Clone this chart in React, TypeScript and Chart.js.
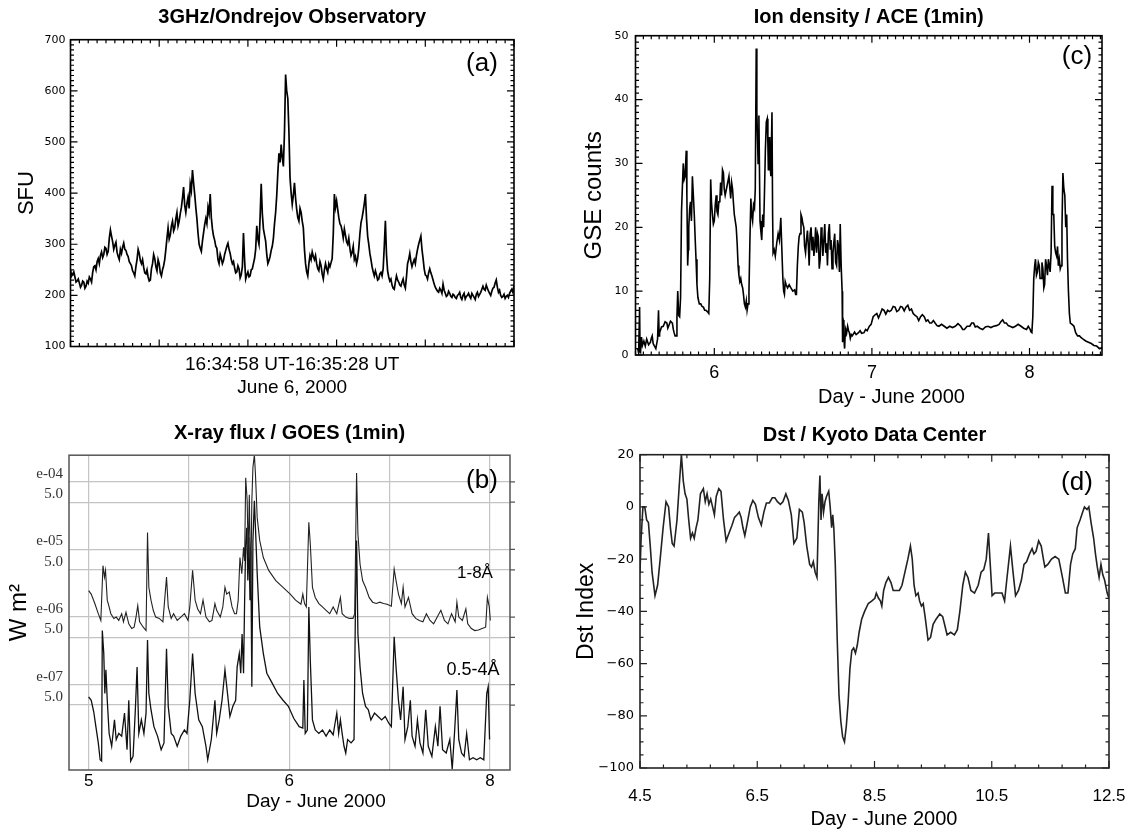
import React, { useEffect, useRef } from "react";
import { Chart, registerables } from "chart.js";

Chart.register(...registerables);
Chart.defaults.font.family = "'Liberation Sans', Arial, sans-serif";
Chart.defaults.color = "#000";

// ---------------- (a) 3 GHz / Ondrejov : seconds after 16:34:58 UT, sampled every 0.075 s
const radioStep = 0.075;
const radioSfu = [
  250, 238, 242, 246, 236, 226, 228, 232, 224, 216, 220, 228, 226, 214, 218, 228, 224, 236, 232, 226,
  245, 256, 258, 250, 266, 272, 262, 278, 285, 274, 280, 294, 292, 280, 286, 312, 328, 316, 305, 290,
  298, 304, 284, 276, 270, 290, 282, 294, 302, 290, 288, 280, 276, 266, 262, 258, 248, 244, 238, 256,
  270, 290, 282, 268, 262, 270, 255, 244, 242, 250, 236, 228, 230, 252, 262, 280, 272, 256, 248, 270,
  262, 244, 238, 250, 258, 270, 290, 312, 332, 310, 318, 336, 345, 326, 332, 350, 362, 336, 345, 360,
  372, 390, 412, 376, 362, 380, 392, 370, 418, 405, 445, 420, 398, 372, 350, 322, 300, 292, 286, 306,
  322, 338, 350, 340, 372, 360, 398, 352, 330, 316, 308, 296, 292, 270, 262, 280, 272, 262, 268, 280,
  288, 296, 302, 290, 282, 270, 262, 266, 254, 244, 246, 258, 252, 234, 240, 256, 322, 270, 232, 240,
  246, 236, 238, 250, 252, 262, 272, 290, 336, 310, 300, 352, 418, 360, 330, 318, 306, 280, 262, 268,
  276, 288, 296, 312, 340, 362, 395, 440, 478, 460, 495, 470, 452, 520, 632, 600, 585, 520, 430, 400,
  378, 396, 420, 390, 368, 352, 345, 370, 362, 345, 332, 290, 262, 246, 238, 262, 278, 270, 285, 276,
  270, 278, 262, 252, 248, 266, 258, 242, 232, 250, 262, 252, 245, 262, 256, 264, 272, 320, 398, 372,
  385, 368, 352, 340, 336, 326, 312, 330, 318, 305, 300, 312, 292, 278, 284, 296, 270, 276, 262, 272,
  292, 320, 342, 352, 365, 380, 398, 350, 316, 300, 282, 270, 256, 246, 238, 248, 240, 230, 232, 242,
  245, 238, 252, 296, 346, 280, 248, 236, 228, 232, 220, 214, 212, 226, 238, 230, 226, 220, 218, 226,
  232, 220, 214, 236, 262, 270, 282, 266, 256, 264, 270, 262, 278, 290, 300, 308, 316, 290, 272, 252,
  240, 238, 232, 244, 252, 244, 238, 230, 222, 216, 212, 208, 206, 214, 210, 204, 222, 210, 204, 198,
  200, 208, 204, 198, 196, 202, 200, 196, 194, 200, 202, 206, 196, 192, 200, 204, 193, 198, 200, 204,
  198, 194, 204, 200, 196, 192, 202, 206, 198, 202, 206, 212, 218, 212, 210, 220, 214, 208, 204, 200,
  208, 214, 216, 224, 230, 216, 206, 210, 200, 196, 198, 202, 194, 198, 200, 196, 204, 208, 212, 206,
  220,
];
const radioXTicks = [0, 6, 12, 18, 24, 30];
const radioYTicks = [100, 200, 300, 400, 500, 600, 700];
const radioYLabels = ["100", "200", "300", "400", "500", "600", "700"];

// ---------------- (c) Ion density / ACE
const aceDays = [
  5.514, 5.52, 5.526, 5.529, 5.532, 5.538, 5.544, 5.553, 5.562, 5.571, 5.583, 5.595, 5.6, 5.606, 5.612, 5.618,
  5.629, 5.64, 5.646, 5.65, 5.653, 5.665, 5.676, 5.688, 5.699, 5.705, 5.71, 5.722, 5.734, 5.74, 5.745, 5.751,
  5.757, 5.763, 5.768, 5.774, 5.78, 5.786, 5.792, 5.797, 5.803, 5.809, 5.815, 5.822, 5.826, 5.831, 5.835, 5.838,
  5.844, 5.849, 5.855, 5.861, 5.867, 5.873, 5.879, 5.884, 5.89, 5.896, 5.905, 5.914, 5.922, 5.931, 5.939, 5.947,
  5.956, 5.965, 5.971, 5.977, 5.982, 5.988, 5.994, 6.0, 6.006, 6.012, 6.017, 6.023, 6.029, 6.035, 6.04, 6.046,
  6.052, 6.058, 6.063, 6.069, 6.081, 6.093, 6.099, 6.104, 6.11, 6.116, 6.121, 6.127, 6.133, 6.139, 6.145, 6.151,
  6.156, 6.162, 6.168, 6.174, 6.18, 6.185, 6.191, 6.197, 6.203, 6.208, 6.214, 6.22, 6.226, 6.232, 6.237, 6.243,
  6.249, 6.255, 6.26, 6.266, 6.27, 6.273, 6.278, 6.283, 6.287, 6.29, 6.295, 6.301, 6.307, 6.313, 6.318, 6.324,
  6.33, 6.336, 6.34, 6.343, 6.347, 6.352, 6.356, 6.359, 6.366, 6.37, 6.373, 6.38, 6.387, 6.396, 6.405, 6.413,
  6.422, 6.428, 6.435, 6.44, 6.445, 6.45, 6.456, 6.465, 6.475, 6.486, 6.498, 6.51, 6.516, 6.521, 6.527, 6.533,
  6.538, 6.544, 6.55, 6.556, 6.562, 6.568, 6.573, 6.579, 6.585, 6.591, 6.597, 6.602, 6.608, 6.614, 6.62, 6.626,
  6.632, 6.637, 6.643, 6.649, 6.655, 6.66, 6.666, 6.672, 6.678, 6.683, 6.689, 6.695, 6.701, 6.707, 6.713, 6.718,
  6.724, 6.73, 6.736, 6.741, 6.747, 6.753, 6.758, 6.764, 6.77, 6.776, 6.782, 6.788, 6.794, 6.799, 6.805, 6.811,
  6.813, 6.815, 6.818, 6.822, 6.825, 6.827, 6.83, 6.834, 6.84, 6.846, 6.852, 6.857, 6.863, 6.869, 6.875, 6.88,
  6.89, 6.9, 6.915, 6.925, 6.935, 6.95, 6.96, 6.97, 6.984, 6.995, 7.008, 7.02, 7.031, 7.042, 7.054, 7.065,
  7.077, 7.088, 7.1, 7.112, 7.123, 7.135, 7.147, 7.158, 7.17, 7.182, 7.193, 7.205, 7.216, 7.228, 7.239, 7.251,
  7.262, 7.274, 7.286, 7.297, 7.309, 7.32, 7.332, 7.344, 7.355, 7.367, 7.378, 7.39, 7.401, 7.413, 7.425, 7.442,
  7.459, 7.476, 7.494, 7.511, 7.529, 7.546, 7.564, 7.576, 7.587, 7.604, 7.621, 7.633, 7.645, 7.656, 7.668, 7.685,
  7.703, 7.72, 7.737, 7.755, 7.772, 7.79, 7.807, 7.818, 7.83, 7.841, 7.853, 7.865, 7.876, 7.894, 7.911, 7.928,
  7.946, 7.963, 7.981, 7.992, 8.004, 8.01, 8.015, 8.021, 8.027, 8.033, 8.038, 8.044, 8.05, 8.056, 8.062, 8.067,
  8.073, 8.079, 8.085, 8.091, 8.096, 8.102, 8.108, 8.114, 8.12, 8.125, 8.131, 8.137, 8.143, 8.148, 8.154, 8.16,
  8.166, 8.172, 8.178, 8.183, 8.189, 8.195, 8.201, 8.206, 8.212, 8.218, 8.224, 8.23, 8.236, 8.241, 8.247, 8.253,
  8.259, 8.27, 8.282, 8.293, 8.305, 8.317, 8.328, 8.34, 8.357, 8.374, 8.392, 8.409, 8.426, 8.444, 8.462,
];
const aceCounts = [
  1.0, 0.3, 7.5, 0.5, 0.4, 2.8, 1.5, 2.2, 1.4, 2.5, 1.6, 2.0, 2.6, 3.0, 1.8, 1.5,
  1.0, 2.5, 7.0, 3.0, 3.5, 4.4, 4.5, 5.2, 5.0, 4.2, 4.5, 5.3, 5.0, 4.0, 3.5, 3.0,
  3.0, 6.0, 10.0, 6.2, 6.0, 9.0, 22.5, 26.0, 30.0, 27.5, 28.0, 32.0, 25.0, 14.0, 16.5, 20.0,
  23.0, 24.0, 21.0, 28.0, 25.0, 22.0, 18.0, 15.0, 11.0, 9.0, 8.0, 8.0, 7.6, 7.5, 7.0, 7.0,
  6.8, 6.5, 12.0, 27.5, 24.0, 22.0, 20.5, 21.0, 23.5, 25.0, 22.5, 22.0, 24.0, 24.0, 27.0, 25.0,
  29.0, 28.5, 26.0, 25.0, 26.5, 28.0, 26.0, 24.5, 27.0, 26.0, 24.0, 22.0, 21.0, 20.0, 17.5, 14.0,
  12.5, 11.5, 12.0, 11.0, 10.5, 9.5, 8.0, 7.5, 8.5, 7.0, 8.0, 10.0, 18.0, 24.5, 22.0, 21.0,
  23.5, 23.0, 26.0, 48.0, 38.0, 35.0, 30.0, 37.5, 28.0, 21.0, 19.5, 18.0, 22.0, 20.0, 25.0, 32.0,
  36.5, 37.0, 33.0, 29.0, 34.0, 34.0, 29.0, 28.0, 38.0, 22.0, 16.0, 16.5, 15.5, 17.5, 19.0, 18.0,
  21.5, 17.0, 12.0, 10.0, 9.5, 11.5, 11.0, 10.5, 11.0, 10.5, 10.0, 10.2, 9.5, 9.5, 14.0, 17.0,
  18.5, 19.0, 22.0, 21.5, 20.5, 20.0, 17.0, 16.0, 18.0, 19.5, 17.0, 14.0, 19.0, 20.0, 16.5, 18.5,
  15.5, 17.0, 20.0, 16.0, 19.0, 18.5, 13.5, 15.0, 20.0, 19.0, 15.5, 18.0, 20.5, 16.0, 17.5, 14.0,
  19.0, 20.5, 16.5, 18.0, 13.5, 16.0, 17.5, 19.0, 14.5, 14.0, 18.0, 17.0, 13.0, 20.5, 14.0, 10.0,
  4.0, 2.0, 5.5, 5.0, 1.5, 1.0, 3.0, 4.0, 3.5, 4.5, 3.8, 3.5, 2.6, 3.2, 3.0, 3.0,
  3.6, 3.2, 3.5, 3.8, 3.4, 3.5, 4.0, 3.8, 4.5, 4.8, 6.0, 6.3, 6.5, 5.8, 6.5, 7.2,
  7.0, 6.4, 7.0, 6.8, 7.0, 7.6, 7.5, 6.8, 7.0, 7.6, 7.5, 6.9, 7.5, 7.8, 7.0, 7.2,
  6.5, 6.2, 6.0, 5.4, 6.0, 6.3, 6.0, 5.3, 5.5, 5.0, 5.0, 5.4, 5.0, 4.6, 4.5, 4.8,
  4.5, 4.2, 4.5, 4.3, 4.5, 4.9, 4.5, 4.0, 4.0, 4.5, 4.5, 5.0, 5.0, 4.4, 4.5, 4.2,
  4.0, 4.4, 4.5, 4.3, 4.5, 4.6, 4.8, 5.2, 5.5, 5.0, 5.0, 4.6, 4.5, 4.3, 4.5, 4.8,
  4.5, 4.2, 4.0, 4.5, 4.0, 3.6, 3.5, 6.0, 12.0, 14.0, 15.0, 12.5, 13.0, 14.5, 14.0, 12.0,
  12.0, 14.5, 13.5, 10.5, 11.0, 15.0, 14.0, 12.5, 15.0, 14.0, 13.0, 16.0, 26.5, 22.0, 22.0, 17.0,
  16.0, 15.5, 17.0, 14.0, 15.0, 13.5, 14.0, 20.0, 28.5, 26.0, 25.0, 20.0, 22.0, 15.0, 10.0, 6.5,
  5.0, 4.8, 4.5, 3.5, 3.0, 3.0, 2.7, 2.5, 2.2, 2.0, 1.8, 1.5, 1.4, 1.0, 1.2,
];
const aceXTicks = [6, 7, 8];
const aceXLabels = ["6", "7", "8"];
const aceYTicks = [0, 10, 20, 30, 40, 50];
const aceYLabels = ["0", "10", "20", "30", "40", "50"];

// ---------------- (b) X-ray flux / GOES : log10(W m^-2)
const goesLongDays = [
  5.0, 5.019, 5.046, 5.072, 5.091, 5.107, 5.118, 5.126, 5.139, 5.153, 5.166, 5.188, 5.206, 5.225, 5.247, 5.26,
  5.279, 5.3, 5.322, 5.34, 5.354, 5.367, 5.381, 5.408, 5.429, 5.44, 5.45, 5.466, 5.483, 5.501, 5.528, 5.555,
  5.582, 5.595, 5.617, 5.635, 5.662, 5.689, 5.716, 5.743, 5.756, 5.777, 5.796, 5.815, 5.836, 5.855, 5.877, 5.903,
  5.922, 5.944, 5.957, 5.984, 6.003, 6.019, 6.032, 6.051, 6.072, 6.091, 6.105, 6.118, 6.131, 6.145, 6.158, 6.166,
  6.174, 6.185, 6.193, 6.201, 6.212, 6.22, 6.228, 6.239, 6.247, 6.26, 6.279, 6.306, 6.346, 6.399, 6.453, 6.507,
  6.547, 6.587, 6.601, 6.614, 6.627, 6.646, 6.657, 6.673, 6.694, 6.721, 6.748, 6.775, 6.802, 6.828, 6.855, 6.882,
  6.895, 6.922, 6.949, 6.976, 6.989, 7.003, 7.013, 7.029, 7.048, 7.07, 7.097, 7.123, 7.15, 7.177, 7.204, 7.231,
  7.263, 7.284, 7.298, 7.316, 7.338, 7.351, 7.365, 7.391, 7.418, 7.445, 7.472, 7.499, 7.525, 7.552, 7.579, 7.606,
  7.633, 7.66, 7.686, 7.713, 7.74, 7.753, 7.767, 7.794, 7.82, 7.834, 7.861, 7.887, 7.914, 7.941, 7.968, 7.981,
  7.995, 8.003,
];
const goesLongLog10 = [
  -5.61, -5.66, -5.8, -5.95, -6.05, -5.24, -5.41, -5.31, -5.75, -5.85, -5.95, -6.02, -6.0, -6.05, -5.95, -6.07,
  -5.93, -6.1, -6.17, -6.15, -6.0, -5.83, -6.07, -6.15, -6.2, -4.75, -5.56, -5.75, -5.9, -6.0, -6.02, -6.07,
  -5.41, -5.85, -6.02, -5.95, -6.05, -6.0, -5.95, -6.05, -5.85, -5.31, -5.75, -5.88, -5.95, -5.75, -6.0, -6.07,
  -6.05, -5.8, -5.9, -6.0, -5.85, -5.56, -5.66, -5.63, -5.85, -5.95, -5.95, -5.75, -5.12, -5.36, -4.97, -5.17,
  -3.94, -4.28, -5.12, -4.19, -5.56, -4.28, -3.79, -3.6, -3.89, -4.53, -4.87, -5.12, -5.31, -5.46, -5.56, -5.66,
  -5.75, -5.81, -5.66, -5.8, -5.85, -4.6, -4.92, -5.56, -5.71, -5.8, -5.85, -5.9, -5.95, -5.85, -5.95, -5.71,
  -5.95, -6.0, -6.02, -6.02, -5.95, -3.87, -4.77, -5.22, -5.46, -5.56, -5.71, -5.78, -5.8, -5.78, -5.8, -5.81,
  -5.84, -5.29, -5.46, -5.66, -5.8, -5.56, -5.85, -5.71, -5.95, -6.02, -6.05, -6.07, -5.95, -6.05, -6.1, -6.0,
  -5.9, -6.05, -6.1, -5.95, -6.07, -5.78, -6.0, -6.05, -5.88, -6.1, -6.17, -6.2, -6.19, -6.17, -6.15, -5.71,
  -5.85, -6.05,
];
const goesShortDays = [
  5.0, 5.019, 5.038, 5.054, 5.072, 5.086, 5.097, 5.102, 5.113, 5.121, 5.129, 5.139, 5.153, 5.172, 5.193, 5.206,
  5.225, 5.247, 5.268, 5.287, 5.3, 5.314, 5.332, 5.349, 5.362, 5.375, 5.394, 5.413, 5.429, 5.44, 5.45, 5.466,
  5.488, 5.515, 5.542, 5.563, 5.582, 5.595, 5.617, 5.635, 5.662, 5.689, 5.716, 5.735, 5.756, 5.777, 5.796, 5.823,
  5.85, 5.877, 5.89, 5.917, 5.944, 5.957, 5.976, 5.997, 6.019, 6.038, 6.056, 6.078, 6.099, 6.11, 6.126, 6.137,
  6.147, 6.158, 6.166, 6.174, 6.182, 6.19, 6.198, 6.206, 6.212, 6.22, 6.228, 6.239, 6.247, 6.26, 6.279, 6.306,
  6.332, 6.373, 6.413, 6.453, 6.493, 6.534, 6.574, 6.601, 6.609, 6.619, 6.635, 6.646, 6.657, 6.673, 6.694, 6.721,
  6.748, 6.775, 6.802, 6.828, 6.842, 6.855, 6.869, 6.882, 6.895, 6.909, 6.922, 6.936, 6.962, 6.984, 6.995, 7.003,
  7.013, 7.029, 7.048, 7.07, 7.091, 7.11, 7.137, 7.164, 7.19, 7.217, 7.244, 7.263, 7.284, 7.298, 7.316, 7.332,
  7.351, 7.365, 7.386, 7.405, 7.418, 7.44, 7.458, 7.477, 7.499, 7.52, 7.539, 7.566, 7.592, 7.611, 7.627, 7.646,
  7.673, 7.7, 7.718, 7.735, 7.753, 7.767, 7.788, 7.807, 7.826, 7.847, 7.874, 7.901, 7.928, 7.954, 7.976, 7.987,
  7.997,
];
const goesShortLog10 = [
  -7.18, -7.23, -7.4, -7.62, -7.86, -8.11, -8.13, -6.2, -6.54, -7.13, -6.78, -7.23, -7.72, -7.91, -7.52, -7.81,
  -7.72, -7.76, -7.42, -7.96, -7.23, -8.13, -8.06, -7.37, -6.74, -7.72, -7.52, -7.72, -7.42, -6.34, -7.13, -7.37,
  -7.62, -7.76, -7.96, -7.86, -6.47, -7.32, -7.72, -7.76, -7.91, -7.76, -7.67, -7.72, -7.23, -6.54, -7.13, -7.52,
  -7.62, -7.91, -8.11, -7.81, -7.23, -7.72, -7.52, -7.23, -6.78, -7.13, -7.47, -7.32, -7.23, -6.74, -6.54, -6.83,
  -6.25, -6.83, -5.75, -4.92, -4.68, -5.46, -4.82, -5.75, -5.02, -7.03, -4.87, -4.28, -4.68, -5.36, -6.15, -6.54,
  -6.83, -6.98, -7.13, -7.23, -7.32, -7.5, -7.62, -7.64, -6.93, -7.72, -7.67, -5.85, -6.64, -7.52, -7.67, -7.72,
  -7.67, -7.76, -7.67, -7.74, -7.57, -7.42, -7.72, -7.52, -7.72, -7.91, -8.01, -7.81, -7.86, -7.81, -5.75, -4.87,
  -6.25, -6.74, -7.13, -7.32, -7.37, -7.52, -7.42, -7.47, -7.52, -7.47, -7.57, -7.62, -6.29, -6.74, -7.23, -7.52,
  -7.03, -7.81, -7.62, -7.23, -7.76, -7.91, -7.52, -7.86, -8.01, -7.37, -7.91, -8.06, -7.62, -7.91, -7.32, -7.96,
  -8.01, -7.81, -8.25, -7.72, -7.08, -7.81, -8.01, -8.06, -7.72, -8.11, -8.08, -8.11, -8.08, -8.11, -7.13, -7.03,
  -7.81,
];
const goesXTicks = [5, 5.75, 6.5, 7.25, 8];
const goesXLabels = ["5", "", "6", "", "8"];
const goesYTicks = [1e-4, 5e-5, 1e-5, 5e-6, 1e-6, 5e-7, 1e-7, 5e-8];
const goesYLabels = ["e-04", "5.0", "e-05", "5.0", "e-06", "5.0", "e-07", "5.0"];

// ---------------- (d) Dst / Kyoto
const dstDays = [
  4.5, 4.519, 4.55, 4.581, 4.613, 4.644, 4.675, 4.706, 4.756, 4.8, 4.844, 4.894, 4.944, 4.988, 5.019, 5.05,
  5.081, 5.131, 5.175, 5.206, 5.238, 5.269, 5.3, 5.331, 5.363, 5.394, 5.425, 5.456, 5.488, 5.531, 5.581, 5.613,
  5.644, 5.675, 5.706, 5.738, 5.769, 5.8, 5.844, 5.881, 5.925, 5.969, 6.019, 6.069, 6.113, 6.156, 6.194, 6.225,
  6.256, 6.288, 6.331, 6.381, 6.425, 6.469, 6.519, 6.569, 6.613, 6.656, 6.706, 6.756, 6.8, 6.844, 6.894, 6.938,
  6.988, 7.031, 7.081, 7.125, 7.175, 7.219, 7.269, 7.3, 7.344, 7.394, 7.425, 7.456, 7.488, 7.519, 7.55, 7.569,
  7.588, 7.606, 7.631, 7.656, 7.681, 7.719, 7.744, 7.769, 7.788, 7.806, 7.831, 7.863, 7.894, 7.925, 7.956, 7.988,
  8.019, 8.05, 8.081, 8.113, 8.144, 8.175, 8.206, 8.238, 8.281, 8.331, 8.394, 8.456, 8.506, 8.531, 8.569, 8.6,
  8.625, 8.656, 8.694, 8.738, 8.781, 8.819, 8.863, 8.925, 8.969, 9.019, 9.069, 9.113, 9.144, 9.175, 9.206, 9.244,
  9.269, 9.3, 9.331, 9.363, 9.413, 9.456, 9.5, 9.55, 9.613, 9.663, 9.706, 9.738, 9.8, 9.863, 9.913, 9.956,
  10.006, 10.05, 10.094, 10.144, 10.206, 10.269, 10.319, 10.363, 10.406, 10.444, 10.469, 10.506, 10.55, 10.613, 10.675, 10.719,
  10.756, 10.819, 10.863, 10.906, 10.956, 11.006, 11.05, 11.094, 11.144, 11.188, 11.219, 11.256, 11.3, 11.344, 11.381, 11.406,
  11.456, 11.519, 11.581, 11.644, 11.706, 11.756, 11.8, 11.844, 11.881, 11.925, 11.956, 12.006, 12.05, 12.081, 12.125, 12.156,
  12.194, 12.238, 12.269, 12.3, 12.331, 12.363, 12.394, 12.425, 12.469, 12.5,
];
const dstValues = [
  -25, -12, 0, 0, -5, -6, -15, -25, -34, -30, -20, -8, 2, 0, -8, -14,
  -15, -5, 10, 20, 10, 5, 3, -5, -12, -10, -12, -8, -5, 5, 7, 2,
  5, 1, 3, 0, -3, 4, 7, 6, -5, -13, -10, -7, -4, -3, -2, -4,
  -8, -11, -6, 0, 2.5, 1, -4, -7, -2, 1.5, 1.5, 3.5, 3.5, 2, 1, 2,
  5, 2.5, -3, -14, -12, -1, -2, -6, -15, -22, -23, -21, -25, -27, 2, 12,
  -5, 5, -2, 2, 4, 6, 0, -8, -3, -8, -22, -50, -72, -82, -88, -90,
  -84, -75, -62, -55, -54, -56, -53, -48, -43, -40, -37, -36, -35, -33, -35, -36,
  -38, -32, -29, -27, -29, -32, -32, -32, -30, -25, -20, -15, -20, -30, -34, -33,
  -36, -38, -37, -42, -51, -50, -45, -43, -41, -42, -46, -49, -48, -49, -47, -40,
  -30, -25, -27, -32, -33, -30, -25, -24, -20, -10, -20, -34, -33, -33, -33, -36,
  -28, -15, -25, -34, -32, -28, -22, -21, -18, -16, -18, -17, -13, -15, -20, -23,
  -22, -20, -19, -20, -27, -33, -33, -22, -18, -16, -8, -5, -2, 0, -1, 0,
  -6, -12, -18, -23, -27, -22, -26, -28, -33, -35,
];
const dstXTicks = [4.5, 6.5, 8.5, 10.5, 12.5];
const dstXLabels = ["4.5", "6.5", "8.5", "10.5", "12.5"];
const dstYTicks = [-100, -80, -60, -40, -20, 0, 20];
const dstYLabels = ["\u2212100", "\u221280", "\u221260", "\u221240", "\u221220", "0", "20"];

// ---------------- helpers
const SANS = "'Liberation Sans', Arial, sans-serif";
const DEJAVU = "'DejaVu Sans', sans-serif";
const SERIF = "'Liberation Serif', 'Times New Roman', serif";
const CW = 567;
const CH = 415;

function seq(a: number, b: number, step: number): number[] {
  const out: number[] = [];
  const n = Math.round((b - a) / step);
  for (let i = 0; i <= n; i++) out.push(Math.round((a + i * step) * 1e6) / 1e6);
  return out;
}

type FrameCfg = {
  color: string;
  lineWidth: number;
  tickWidth: number;
  xMajor: number[];
  xMinor: number[];
  yMajor: number[];
  yMinor: number[];
  majorLen: number;
  minorLen: number;
  rightOut?: number[];
  outLen?: number;
};

function framePlugin(cfg: FrameCfg) {
  return {
    id: "frame",
    afterDatasetsDraw(chart: any) {
      const { ctx, chartArea } = chart;
      const { left, right, top, bottom } = chartArea;
      const xs = chart.scales.x;
      const ys = chart.scales.y;
      ctx.save();
      ctx.strokeStyle = cfg.color;
      ctx.lineWidth = cfg.tickWidth;
      ctx.beginPath();
      const xt = (v: number, len: number) => {
        const p = xs.getPixelForValue(v);
        if (p < left - 0.5 || p > right + 0.5) return;
        ctx.moveTo(p, bottom);
        ctx.lineTo(p, bottom - len);
        ctx.moveTo(p, top);
        ctx.lineTo(p, top + len);
      };
      const yt = (v: number, len: number) => {
        const p = ys.getPixelForValue(v);
        if (p < top - 0.5 || p > bottom + 0.5) return;
        ctx.moveTo(left, p);
        ctx.lineTo(left + len, p);
        ctx.moveTo(right, p);
        ctx.lineTo(right - len, p);
      };
      cfg.xMinor.forEach((v) => xt(v, cfg.minorLen));
      cfg.xMajor.forEach((v) => xt(v, cfg.majorLen));
      cfg.yMinor.forEach((v) => yt(v, cfg.minorLen));
      cfg.yMajor.forEach((v) => yt(v, cfg.majorLen));
      (cfg.rightOut || []).forEach((v) => {
        const p = ys.getPixelForValue(v);
        ctx.moveTo(right, p);
        ctx.lineTo(right + (cfg.outLen || 5), p);
      });
      ctx.stroke();
      ctx.lineWidth = cfg.lineWidth;
      ctx.strokeRect(left, top, right - left, bottom - top);
      ctx.restore();
    },
  };
}

type TextItem = { text: string; x: number; y: number; font: string; color?: string };
function textPlugin(items: TextItem[]) {
  return {
    id: "texts",
    afterDraw(chart: any) {
      const ctx = chart.ctx;
      ctx.save();
      ctx.textAlign = "center";
      ctx.textBaseline = "middle";
      items.forEach((it) => {
        ctx.font = it.font;
        ctx.fillStyle = it.color || "#000";
        ctx.fillText(it.text, it.x, it.y);
      });
      ctx.restore();
    },
  };
}

const setTicks = (vals: number[]) => (scale: any) => {
  scale.ticks = vals.map((v) => ({ value: v }));
};
const labelsFrom = (labels: string[]) => (_v: any, i: number) => labels[i];

function baseOptions(title: string, titlePad: { top: number; bottom: number }, padRight: number) {
  return {
    animation: false as const,
    responsive: false,
    devicePixelRatio: 1,
    events: [] as any[],
    layout: { padding: { left: 0, right: padRight, top: 0, bottom: 0 } },
    plugins: {
      legend: { display: false },
      tooltip: { enabled: false },
      title: {
        display: true,
        text: title,
        fullSize: false,
        color: "#000",
        font: { family: SANS, size: 20, weight: "bold" as const, lineHeight: 1.2 },
        padding: titlePad,
      },
    },
  };
}

// ---------------- panel configs
function buildA() {
  return {
    type: "line" as const,
    data: {
      datasets: [
        {
          data: radioSfu.map((v, i) => ({ x: i * radioStep, y: v })),
          borderColor: "#000",
          borderWidth: 1.7,
          pointRadius: 0,
          tension: 0,
        },
      ],
    },
    options: {
      ...baseOptions("3GHz/Ondrejov Observatory", { top: 5.6, bottom: 10.1 }, 53),
      scales: {
        x: {
          type: "linear" as const,
          min: 0,
          max: 30,
          afterBuildTicks: setTicks(radioXTicks),
          ticks: { display: false },
          grid: { display: false, drawTicks: false },
          border: { display: false },
          title: {
            display: true,
            text: ["16:34:58 UT-16:35:28 UT", "June 6, 2000"],
            color: "#000",
            font: { family: SANS, size: 19, lineHeight: 23 / 19 },
            padding: { top: 0, bottom: 15.5 },
          },
          afterFit: (s: any) => {
            s.height = 68.5;
          },
        },
        y: {
          type: "linear" as const,
          min: 100,
          max: 700,
          afterBuildTicks: setTicks(radioYTicks),
          ticks: { font: { family: DEJAVU, size: 11 }, color: "#000", padding: 5, callback: labelsFrom(radioYLabels) },
          grid: { display: false, drawTicks: false },
          border: { display: false },
          title: { display: true, text: "SFU", color: "#000", font: { family: SANS, size: 22 }, padding: { top: 14, bottom: 0 } },
          afterFit: (s: any) => {
            s.width = 70.5;
          },
        },
      },
    },
    plugins: [
      framePlugin({
        color: "#000",
        lineWidth: 1.6,
        tickWidth: 1.2,
        xMajor: radioXTicks,
        xMinor: seq(0, 30, 0.6),
        yMajor: radioYTicks,
        yMinor: seq(100, 700, 10),
        majorLen: 7,
        minorLen: 3.5,
      }),
      textPlugin([{ text: "(a)", x: 482, y: 64, font: `26px ${SANS}` }]),
    ],
  };
}

function buildC() {
  return {
    type: "line" as const,
    data: {
      datasets: [
        {
          data: aceDays.map((d, i) => ({ x: d, y: aceCounts[i] })),
          borderColor: "#000",
          borderWidth: 1.6,
          pointRadius: 0,
          tension: 0,
        },
      ],
    },
    options: {
      ...baseOptions("Ion density / ACE (1min)", { top: 5.6, bottom: 6.1 }, 32),
      scales: {
        x: {
          type: "linear" as const,
          min: 5.5,
          max: 8.46,
          afterBuildTicks: setTicks(aceXTicks),
          ticks: { font: { family: SANS, size: 18 }, color: "#000", padding: 7.5, maxRotation: 0, callback: labelsFrom(aceXLabels) },
          grid: { display: false, drawTicks: false },
          border: { display: false },
          afterFit: (s: any) => {
            s.height = 60;
          },
        },
        y: {
          type: "linear" as const,
          min: 0,
          max: 50,
          afterBuildTicks: setTicks(aceYTicks),
          ticks: { font: { family: DEJAVU, size: 11 }, color: "#000", padding: 7, callback: labelsFrom(aceYLabels) },
          grid: { display: false, drawTicks: false },
          border: { display: false },
          title: { display: true, text: "GSE counts", color: "#000", font: { family: SANS, size: 24 }, padding: { top: 12.6, bottom: 0 } },
          afterFit: (s: any) => {
            s.width = 68.5;
          },
        },
      },
    },
    plugins: [
      framePlugin({
        color: "#000",
        lineWidth: 1.6,
        tickWidth: 1.2,
        xMajor: aceXTicks,
        xMinor: seq(5.5, 8.45, 0.05),
        yMajor: aceYTicks,
        yMinor: seq(0, 50, 1),
        majorLen: 7,
        minorLen: 3.5,
      }),
      textPlugin([
        { text: "(c)", x: 510, y: 57, font: `26px ${SANS}` },
        { text: "Day - June 2000", x: 324.5, y: 397, font: `20px ${SANS}` },
      ]),
    ],
  };
}

function buildB() {
  return {
    type: "line" as const,
    data: {
      datasets: [
        {
          data: goesLongDays.map((d, i) => ({ x: d, y: Math.pow(10, goesLongLog10[i]) })),
          borderColor: "#222",
          borderWidth: 1.1,
          pointRadius: 0,
          tension: 0,
        },
        {
          data: goesShortDays.map((d, i) => ({ x: d, y: Math.pow(10, goesShortLog10[i]) })),
          borderColor: "#111",
          borderWidth: 1.3,
          pointRadius: 0,
          tension: 0,
        },
      ],
    },
    options: {
      ...baseOptions("X-ray flux / GOES (1min)", { top: 6.6, bottom: 9.6 }, 57),
      scales: {
        x: {
          type: "linear" as const,
          min: 4.853,
          max: 8.15,
          afterBuildTicks: setTicks(goesXTicks),
          ticks: {
            font: { family: SANS, size: 17, lineHeight: 1.2 },
            color: "#000",
            padding: 1,
            maxRotation: 0,
            autoSkip: false,
            callback: labelsFrom(goesXLabels),
          },
          grid: { display: true, drawTicks: false, color: "#c4c4c4", lineWidth: 1.2 },
          border: { display: false },
          afterFit: (s: any) => {
            s.height = 60;
          },
        },
        y: {
          type: "logarithmic" as const,
          min: Math.pow(10, -8.261),
          max: Math.pow(10, -3.607),
          afterBuildTicks: setTicks(goesYTicks),
          ticks: { font: { family: SERIF, size: 15 }, color: "#333", padding: 6, labelOffset: -8, autoSkip: false, callback: labelsFrom(goesYLabels) },
          grid: { display: true, drawTicks: false, color: "#c4c4c4", lineWidth: 1.2 },
          border: { display: false },
          title: { display: true, text: "W m²", color: "#000", font: { family: SANS, size: 24 }, padding: { top: 5, bottom: 0 } },
          afterFit: (s: any) => {
            s.width = 69;
          },
        },
      },
    },
    plugins: [
      framePlugin({
        color: "#555",
        lineWidth: 1.5,
        tickWidth: 1.2,
        xMajor: [],
        xMinor: [],
        yMajor: [],
        yMinor: [],
        majorLen: 0,
        minorLen: 0,
        rightOut: goesYTicks,
        outLen: 5,
      }),
      textPlugin([
        { text: "(b)", x: 482, y: 66, font: `26px ${SANS}` },
        { text: "1-8Å", x: 475, y: 158, font: `17px ${SANS}` },
        { text: "0.5-4Å", x: 473, y: 255, font: `18px ${SANS}` },
        { text: "Day - June 2000", x: 316, y: 387, font: `19px ${SANS}` },
      ]),
    ],
  };
}

function buildD() {
  return {
    type: "line" as const,
    data: {
      datasets: [
        {
          data: dstDays.map((d, i) => ({ x: d, y: dstValues[i] })),
          borderColor: "#222",
          borderWidth: 1.6,
          pointRadius: 0,
          tension: 0,
        },
      ],
    },
    options: {
      ...baseOptions("Dst / Kyoto Data Center", { top: 8.6, bottom: 7.1 }, 25),
      scales: {
        x: {
          type: "linear" as const,
          min: 4.5,
          max: 12.5,
          afterBuildTicks: setTicks(dstXTicks),
          ticks: {
            font: { family: SANS, size: 17, lineHeight: 52 / 17 },
            color: "#000",
            padding: 2,
            maxRotation: 0,
            autoSkip: false,
            callback: labelsFrom(dstXLabels),
          },
          grid: { display: false, drawTicks: false },
          border: { display: false },
          afterFit: (s: any) => {
            s.height = 62;
          },
        },
        y: {
          type: "linear" as const,
          min: -100,
          max: 20,
          afterBuildTicks: setTicks(dstYTicks),
          ticks: { font: { family: DEJAVU, size: 13 }, color: "#000", padding: 6, callback: labelsFrom(dstYLabels) },
          grid: { display: false, drawTicks: false },
          border: { display: false },
          title: { display: true, text: "Dst Index", color: "#000", font: { family: SANS, size: 23 }, padding: { top: 6.2, bottom: 0 } },
          afterFit: (s: any) => {
            s.width = 73;
          },
        },
      },
    },
    plugins: [
      framePlugin({
        color: "#222",
        lineWidth: 1.6,
        tickWidth: 1.2,
        xMajor: dstXTicks,
        xMinor: seq(4.5, 12.5, 0.4),
        yMajor: dstYTicks,
        yMinor: seq(-100, 20, 5),
        majorLen: 7,
        minorLen: 3.5,
      }),
      textPlugin([
        { text: "(d)", x: 510, y: 68, font: `26px ${SANS}` },
        { text: "Day - June 2000", x: 317, y: 404, font: `20px ${SANS}` },
      ]),
    ],
  };
}

function Panel({ left, top, build }: { left: number; top: number; build: () => any }) {
  const ref = useRef<HTMLCanvasElement>(null);
  useEffect(() => {
    if (!ref.current) return;
    const chart = new Chart(ref.current, build());
    return () => chart.destroy();
  }, [build]);
  return (
    <canvas
      ref={ref}
      width={CW}
      height={CH}
      style={{ position: "absolute", left, top, width: CW, height: CH, display: "block" }}
    />
  );
}

export default function App() {
  return (
    <div style={{ position: "absolute", left: 0, top: 0, width: 1134, height: 830, background: "#fff" }}>
      <Panel left={0} top={0} build={buildA} />
      <Panel left={567} top={0} build={buildC} />
      <Panel left={0} top={415} build={buildB} />
      <Panel left={567} top={415} build={buildD} />
    </div>
  );
}
